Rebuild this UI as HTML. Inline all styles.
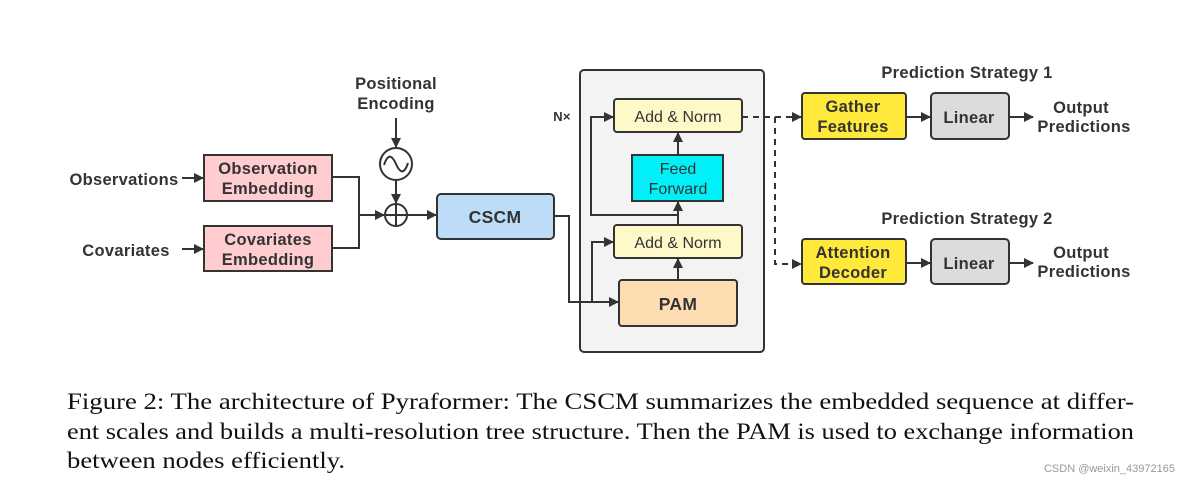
<!DOCTYPE html>
<html><head><meta charset="utf-8"><style>
html,body{margin:0;padding:0;background:#fff;}
svg{display:block;}
.b{font-family:"Liberation Sans",sans-serif;font-weight:bold;font-size:16.5px;letter-spacing:0.3px;fill:#333;}
.n{font-family:"Liberation Sans",sans-serif;font-size:16px;fill:#333;}
.c{font-family:"Liberation Serif",serif;font-size:23px;fill:#111;}
</style></head><body>
<svg width="1184" height="479" viewBox="0 0 1184 479" xmlns="http://www.w3.org/2000/svg">
<defs><marker id="a" markerWidth="10" markerHeight="10" refX="9" refY="5" orient="auto" markerUnits="userSpaceOnUse"><path d="M0,0 L10,5 L0,10 z" fill="#333"/></marker></defs>
<g stroke="#333" stroke-width="2" fill="none">
<rect x="580" y="70" width="184" height="282" rx="4" fill="#f3f3f3"/>
<line x1="182" y1="178" x2="203" y2="178" marker-end="url(#a)"/>
<line x1="182" y1="249" x2="203" y2="249" marker-end="url(#a)"/>
<polyline points="332,177 359,177 359,248 332,248"/>
<line x1="359" y1="215" x2="384" y2="215" marker-end="url(#a)"/>
<line x1="396" y1="118" x2="396" y2="147" marker-end="url(#a)"/>
<line x1="396" y1="180" x2="396" y2="203" marker-end="url(#a)"/>
<line x1="407" y1="215" x2="436" y2="215" marker-end="url(#a)"/>
<polyline points="554,216 569,216 569,302 618,302" marker-end="url(#a)"/>
<polyline points="592,302 592,242 613,242" marker-end="url(#a)"/>
<line x1="678" y1="280" x2="678" y2="259" marker-end="url(#a)"/>
<line x1="678" y1="225" x2="678" y2="202" marker-end="url(#a)"/>
<polyline points="678,215 591,215 591,117 613,117" marker-end="url(#a)"/>
<line x1="678" y1="155" x2="678" y2="133" marker-end="url(#a)"/>
<line x1="742" y1="117" x2="801" y2="117" stroke-dasharray="6,5" marker-end="url(#a)"/>
<polyline points="775,117 775,264 801,264" stroke-dasharray="6,5" marker-end="url(#a)"/>
<line x1="906" y1="117" x2="930" y2="117" marker-end="url(#a)"/>
<line x1="1009" y1="117" x2="1033" y2="117" marker-end="url(#a)"/>
<line x1="906" y1="263" x2="930" y2="263" marker-end="url(#a)"/>
<line x1="1009" y1="263" x2="1033" y2="263" marker-end="url(#a)"/>
<rect x="204" y="155" width="128" height="46" fill="#ffccd0"/>
<rect x="204" y="226" width="128" height="45" fill="#ffccd0"/>
<circle cx="396" cy="164" r="16" fill="#fff"/>
<path d="M384,165 C388,153 392,155 396,164 C400,173 404,175 408,163"/>
<circle cx="396" cy="215" r="11" fill="#fff"/>
<line x1="385" y1="215" x2="407" y2="215"/><line x1="396" y1="204" x2="396" y2="226"/>
<rect x="437" y="194" width="117" height="45" rx="4" fill="#bcdcf7"/>
<rect x="614" y="99" width="128" height="33" rx="3" fill="#fff8c8"/>
<rect x="632" y="155" width="91" height="46" fill="#00f0f8"/>
<rect x="614" y="225" width="128" height="33" rx="3" fill="#fff8c8"/>
<rect x="619" y="280" width="118" height="46" rx="3" fill="#fddcb2"/>
<rect x="802" y="93" width="104" height="46" rx="3" fill="#ffe93a"/>
<rect x="931" y="93" width="78" height="46" rx="4" fill="#dcdcdc"/>
<rect x="802" y="239" width="104" height="45" rx="3" fill="#ffe93a"/>
<rect x="931" y="239" width="78" height="45" rx="4" fill="#dcdcdc"/>
</g>
<g class="b" text-anchor="middle">
<text x="396" y="89">Positional</text><text x="396" y="109">Encoding</text>
<text x="124" y="185">Observations</text>
<text x="126" y="256">Covariates</text>
<text x="268" y="174">Observation</text><text x="268" y="194">Embedding</text>
<text x="268" y="245">Covariates</text><text x="268" y="265">Embedding</text>
<text x="495" y="223" font-size="17.5">CSCM</text>
<text x="678" y="310" font-size="17.5">PAM</text>
<text x="562" y="121" font-size="13">N×</text>
<text x="967" y="78">Prediction Strategy 1</text>
<text x="967" y="224">Prediction Strategy 2</text>
<text x="853" y="112">Gather</text><text x="853" y="132">Features</text>
<text x="853" y="258">Attention</text><text x="853" y="278">Decoder</text>
<text x="969" y="123">Linear</text><text x="969" y="269">Linear</text>
<text x="1081" y="113">Output</text><text x="1084" y="132">Predictions</text>
<text x="1081" y="258">Output</text><text x="1084" y="277">Predictions</text>
</g>
<g class="n" text-anchor="middle">
<text x="678" y="122">Add &amp; Norm</text>
<text x="678" y="248">Add &amp; Norm</text>
<text x="678" y="174">Feed</text><text x="678" y="194">Forward</text>
</g>
<text class="c" x="67" y="409" textLength="1067" lengthAdjust="spacingAndGlyphs">Figure 2: The architecture of Pyraformer: The CSCM summarizes the embedded sequence at differ-</text>
<text class="c" x="67" y="439" textLength="1067" lengthAdjust="spacingAndGlyphs">ent scales and builds a multi-resolution tree structure. Then the PAM is used to exchange information</text>
<text class="c" x="67" y="468" textLength="278" lengthAdjust="spacingAndGlyphs">between nodes efficiently.</text>
<text x="1175" y="472" text-anchor="end" font-family="Liberation Sans,sans-serif" font-size="11" fill="#999">CSDN @weixin_43972165</text>
</svg>
</body></html>
